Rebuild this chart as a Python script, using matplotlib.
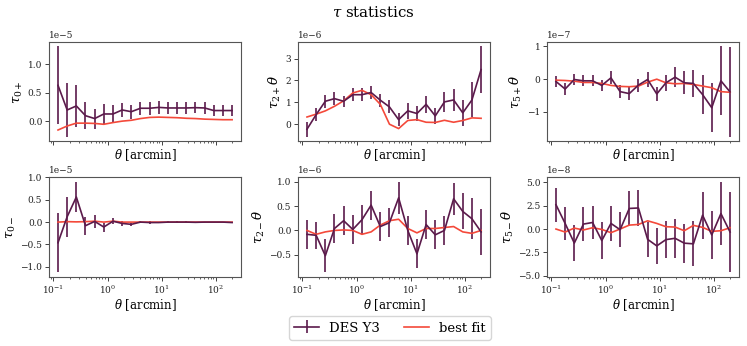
import numpy as np
import matplotlib
matplotlib.use("Agg")
import matplotlib.pyplot as plt

plt.rcParams['font.family'] = ['DejaVu Serif']
plt.rcParams['mathtext.fontset'] = 'dejavuserif'

theta = [0.1216, 0.1795, 0.2650, 0.3912, 0.5775, 0.8525, 1.2585, 1.8578, 2.7425,
         4.0485, 5.9765, 8.8226, 13.024, 19.226, 28.382, 41.898, 61.850, 91.305,
         134.79, 198.97]

tau0p = [0.63, 0.20, 0.27, 0.10, 0.05, 0.13, 0.13, 0.20, 0.17, 0.23, 0.23, 0.245,
         0.235, 0.235, 0.235, 0.24, 0.235, 0.19, 0.19, 0.19]
tau0p_err = [0.68, 0.47, 0.37, 0.24, 0.175, 0.17, 0.15, 0.12, 0.12, 0.11, 0.11, 0.11,
             0.10, 0.10, 0.10, 0.10, 0.10, 0.10, 0.10, 0.10]
tau0p_fit = [-0.15, -0.08, -0.03, -0.03, -0.035, -0.05, -0.02, 0.005, 0.02, 0.05,
             0.07, 0.075, 0.07, 0.065, 0.055, 0.05, 0.04, 0.035, 0.03, 0.03]

tau2p = [-0.23, 0.44, 1.05, 1.17, 1.05, 1.35, 1.35, 1.45, 1.10, 0.79, 0.21, 0.61,
         0.49, 0.91, 0.38, 1.02, 1.11, 0.52, 1.11, 2.50]
tau2p_err = [0.35, 0.30, 0.30, 0.30, 0.25, 0.30, 0.30, 0.30, 0.30, 0.30, 0.30, 0.35,
             0.35, 0.40, 0.35, 0.45, 0.50, 0.60, 0.80, 1.06]
tau2p_fit = [0.33, 0.46, 0.61, 0.82, 1.07, 1.43, 1.55, 1.35, 0.91, 0.0, -0.20, 0.17,
             0.21, 0.09, 0.08, 0.18, 0.09, 0.17, 0.29, 0.27]

tau5p = [-0.07, -0.30, -0.01, -0.05, -0.05, -0.19, 0.04, -0.38, -0.44, -0.18, -0.01,
         -0.45, -0.11, 0.06, -0.11, -0.13, -0.47, -0.87, -0.05, -0.39]
tau5p_err = [0.18, 0.18, 0.18, 0.17, 0.17, 0.17, 0.20, 0.20, 0.20, 0.20, 0.22, 0.22,
             0.25, 0.30, 0.35, 0.40, 0.60, 0.75, 1.05, 1.37]
tau5p_fit = [-0.03, -0.04, -0.06, -0.10, -0.10, -0.13, -0.19, -0.22, -0.23, -0.21,
             -0.09, 0.0, -0.11, -0.14, -0.13, -0.16, -0.21, -0.26, -0.38, -0.40]

tau0m = [-0.46, 0.12, 0.56, -0.08, 0.015, -0.11, 0.02, -0.03, -0.05, 0.0, -0.01, -0.01,
         0.0, 0.0, 0.0, -0.005, 0.0, 0.0, 0.0, -0.01]
tau0m_err = [0.66, 0.45, 0.34, 0.20, 0.14, 0.10, 0.07, 0.05, 0.04, 0.03, 0.025, 0.02,
             0.02, 0.015, 0.015, 0.012, 0.012, 0.01, 0.01, 0.01]
tau0m_fit = [0.0, 0.01, 0.005, 0.01, 0.02, 0.0, 0.02, 0.0, 0.0, 0.0, 0.0, 0.0,
             0.0, 0.0, 0.0, 0.0, 0.0, 0.0, 0.0, 0.0]

tau2m = [-0.08, -0.10, -0.52, 0.04, 0.20, 0.02, 0.22, 0.52, 0.08, 0.16, 0.67, 0.0,
         -0.48, 0.12, -0.09, 0.0, 0.65, 0.39, 0.24, -0.03]
tau2m_err = [0.30, 0.28, 0.34, 0.30, 0.30, 0.30, 0.30, 0.30, 0.30, 0.30, 0.33, 0.30,
             0.30, 0.30, 0.30, 0.30, 0.33, 0.37, 0.42, 0.47]
tau2m_fit = [0.0, -0.08, -0.03, 0.0, 0.01, 0.0, -0.08, -0.03, 0.11, 0.20, 0.23, 0.04,
             -0.05, 0.04, 0.04, 0.06, 0.08, -0.03, -0.06, 0.0]

tau5m = [2.6, 0.6, -1.5, 0.53, 0.7, -1.23, 0.6, -0.07, 2.2, 2.25, -1.1, -1.8, -1.13,
         -0.99, -1.51, -1.58, 1.48, -0.63, 1.65, -0.32]
tau5m_err = [1.8, 1.8, 1.9, 1.8, 1.8, 2.0, 1.9, 1.9, 1.9, 1.9, 1.9, 1.95, 2.0, 2.1,
             2.1, 2.4, 2.5, 2.6, 3.4, 4.3]
tau5m_fit = [0.0, -0.32, 0.1, -0.1, 0.14, -0.04, -0.39, 0.0, 0.42, 0.49, 0.88, 0.6,
             0.25, 0.21, -0.18, 0.39, 0.18, -0.25, -0.18, 0.14]

panels = [
    (tau0p, tau0p_err, tau0p_fit, 1e-5, r'$\tau_{0+}$'),
    (tau2p, tau2p_err, tau2p_fit, 1e-6, r'$\tau_{2+}\theta$'),
    (tau5p, tau5p_err, tau5p_fit, 1e-7, r'$\tau_{5+}\theta$'),
    (tau0m, tau0m_err, tau0m_fit, 1e-5, r'$\tau_{0-}$'),
    (tau2m, tau2m_err, tau2m_fit, 1e-6, r'$\tau_{2-}\theta$'),
    (tau5m, tau5m_err, tau5m_fit, 1e-8, r'$\tau_{5-}\theta$'),
]

c_data = '#5b1a4b'
c_fit = '#f4493a'

fig, axes = plt.subplots(2, 3, figsize=(7.47, 3.46), dpi=100, sharex=True)
fig.subplots_adjust(left=0.066, right=0.989, top=0.879, bottom=0.2,
                    wspace=0.30, hspace=0.36)

th = np.array(theta)
handles = None
for ax, (vals, errs, fit, scale, lab) in zip(axes.flat, panels):
    h1 = ax.errorbar(th, np.array(vals) * scale, yerr=np.array(errs) * scale,
                     color=c_data, lw=1.2, elinewidth=1.2, label='DES Y3')
    h2, = ax.plot(th, np.array(fit) * scale, color=c_fit, lw=1.2, label='best fit')
    handles = [h1, h2]
    ax.set_xscale('log')
    ax.set_ylabel(lab, fontsize=9.5, labelpad=2)
    ax.set_xlabel(r'$\theta$ [arcmin]', fontsize=8.5, labelpad=1)
    ax.tick_params(which='major', labelsize=6.5, colors='#222222', length=3, width=0.6, pad=2)
    ax.tick_params(which='minor', length=1.7, width=0.5, colors='#222222')
    ax.yaxis.get_offset_text().set_fontsize(6.5)
    for sp in ax.spines.values():
        sp.set_color('#555555')
        sp.set_linewidth(0.8)
    ax.xaxis.set_tick_params(labelbottom=(ax in axes[1]))

fig.suptitle(r'$\tau$ statistics', fontsize=10.8, y=0.985)
fig.legend(handles, ['DES Y3', 'best fit'], loc='center', ncol=2,
           bbox_to_anchor=(390 / 747, 1 - 328 / 346), fontsize=9.5,
           handlelength=1.9, handletextpad=0.75, columnspacing=1.8)

fig.savefig('out.png', dpi=100)
